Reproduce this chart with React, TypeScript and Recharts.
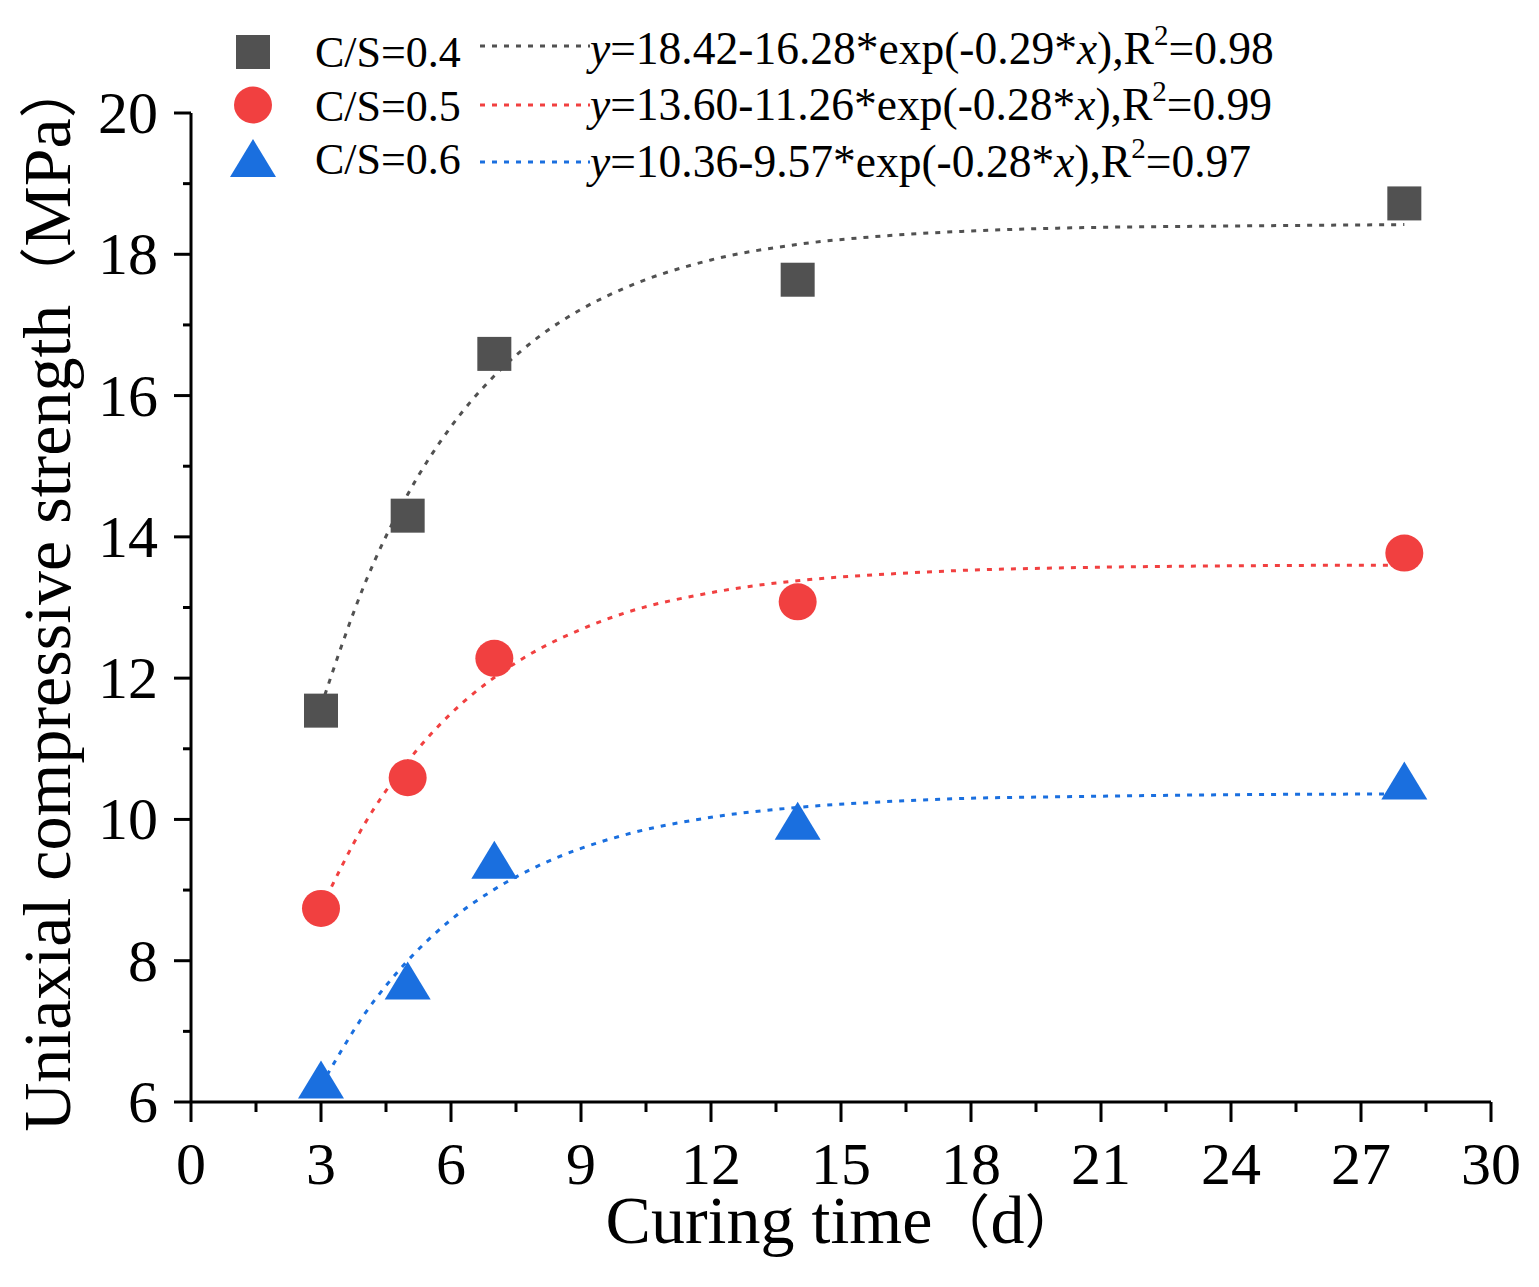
import React from 'react';
import { ComposedChart, XAxis, YAxis, Line, Scatter } from 'recharts';

// Measured data (curing time in days, strength in MPa)
const days = [3, 5, 7, 14, 28];
const strength04 = [11.54, 14.3, 16.59, 17.64, 18.72];
const strength05 = [8.74, 10.59, 12.28, 13.08, 13.77];
const strength06 = [6.32, 7.72, 9.43, 9.98, 10.55];

// Fitted curves
const fitDays = [3, 4, 5, 6, 7, 8, 9, 10, 12, 14, 16, 18, 20, 24, 28];
const fit04 = [11.6, 13.32, 14.6, 15.56, 16.28, 16.82, 17.22, 17.52, 17.92, 18.14, 18.26, 18.33, 18.37, 18.4, 18.42];
const fit05 = [8.74, 9.93, 10.82, 11.5, 12.01, 12.4, 12.69, 12.92, 13.21, 13.38, 13.47, 13.53, 13.56, 13.59, 13.6];
const fit06 = [6.23, 7.24, 8.0, 8.58, 9.01, 9.34, 9.59, 9.78, 10.03, 10.17, 10.25, 10.3, 10.32, 10.35, 10.36];

// Ticks
const xTicks = [0, 1.5, 3, 4.5, 6, 7.5, 9, 10.5, 12, 13.5, 15, 16.5, 18, 19.5, 21, 22.5, 24, 25.5, 27, 28.5, 30];
const yTicks = [6, 7, 8, 9, 10, 11, 12, 13, 14, 15, 16, 17, 18, 19, 20];

// Axis titles
const xTitleText = 'Curing time';
const xTitleUnit = 'd';
const yTitleText = 'Uniaxial compressive strength';
const yTitleUnit = 'MPa';

// Legend texts
const seriesNames = ['C/S=0.4', 'C/S=0.5', 'C/S=0.6'];
const fitA = ['18.42', '13.60', '10.36'];
const fitB = ['16.28', '11.26', '9.57'];
const fitK = ['0.29', '0.28', '0.28'];
const fitR2 = ['0.98', '0.99', '0.97'];

const colors = ['#515151', '#F14040', '#1A6FDF'];
const FONT = "'Liberation Serif', 'Times New Roman', 'Noto Sans CJK SC', serif";

const toPoints = (xs: number[], ys: number[]) => xs.map((x, i) => ({ x, y: ys[i] }));

const pts04 = toPoints(days, strength04);
const pts05 = toPoints(days, strength05);
const pts06 = toPoints(days, strength06);
const line04 = toPoints(fitDays, fit04);
const line05 = toPoints(fitDays, fit05);
const line06 = toPoints(fitDays, fit06);

const SquareShape = (props: any) => {
  const { cx, cy } = props;
  return <rect x={cx - 17} y={cy - 17} width={34} height={34} fill={colors[0]} />;
};
const CircleShape = (props: any) => {
  const { cx, cy } = props;
  return <ellipse cx={cx} cy={cy} rx={19} ry={18.5} fill={colors[1]} />;
};
const TriangleShape = (props: any) => {
  const { cx, cy } = props;
  return <polygon points={`${cx},${cy - 19} ${cx + 23},${cy + 19} ${cx - 23},${cy + 19}`} fill={colors[2]} />;
};

const XTick = (props: any) => {
  const { x, y, payload } = props;
  const v = payload.value;
  const major = Math.abs(v % 3) < 1e-6;
  return (
    <g>
      <line x1={x} x2={x} y1={y} y2={y + (major ? 20 : 10)} stroke="#000" strokeWidth={3} />
      {major && (
        <text x={x} y={y + 82} textAnchor="middle" fontSize={60} fontFamily={FONT} fill="#000">
          {v}
        </text>
      )}
    </g>
  );
};

const YTick = (props: any) => {
  const { x, y, payload } = props;
  const v = payload.value;
  const major = Math.abs(v % 2) < 1e-6;
  return (
    <g>
      <line x1={x - (major ? 17 : 8)} x2={x} y1={y} y2={y} stroke="#000" strokeWidth={3} />
      {major && (
        <text x={x - 33} y={y + 20} textAnchor="end" fontSize={60} fontFamily={FONT} fill="#000">
          {v}
        </text>
      )}
    </g>
  );
};

const PAREN = 58;

const XTitle = () => (
  <text x={836} y={1235} textAnchor="middle" fontSize={68} fontFamily={FONT} fill="#000">
    {xTitleText}
    <tspan fontSize={PAREN}>（</tspan>
    {xTitleUnit}
    <tspan fontSize={PAREN}>）</tspan>
  </text>
);

const YTitle = () => (
  <text
    x={0}
    y={0}
    transform="translate(62,588) rotate(-90)"
    textAnchor="middle"
    fontSize={68}
    fontFamily={FONT}
    fill="#000"
  >
    {yTitleText}
    <tspan fontSize={PAREN}>（</tspan>
    {yTitleUnit}
    <tspan fontSize={PAREN}>）</tspan>
  </text>
);

const rowSymbolY = [44, 97, 150];
const rowLabelY = [59, 113, 166];
const rowLineY = [38, 97, 154];
const rowEqY = [56, 112, 169];

const LegendSymbol = ({ i, cx, cy }: { i: number; cx: number; cy: number }) => {
  if (i === 0) return <SquareShape cx={cx} cy={cy} />;
  if (i === 1) return <CircleShape cx={cx} cy={cy} />;
  return <TriangleShape cx={cx} cy={cy} />;
};

const LegendOverlay = () => (
  <svg
    width={1523}
    height={220}
    style={{ position: 'absolute', left: 0, top: 0, pointerEvents: 'none' }}
  >
    {seriesNames.map((name, i) => (
      <g key={name}>
        <LegendSymbol i={i} cx={245} cy={rowSymbolY[i]} />
        <text x={307} y={rowLabelY[i]} fontSize={44} fontFamily={FONT} fill="#000">
          {name}
        </text>
        <line
          x1={472}
          x2={582}
          y1={rowLineY[i]}
          y2={rowLineY[i]}
          stroke={colors[i]}
          strokeWidth={3}
          strokeDasharray="5 7"
        />
        <text x={582} y={rowEqY[i]} fontSize={45.5} fontFamily={FONT} fill="#000">
          <tspan fontStyle="italic">y</tspan>
          {`=${fitA[i]}-${fitB[i]}*exp(-${fitK[i]}*`}
          <tspan fontStyle="italic">x</tspan>
          {'),R'}
          <tspan dy={-19} fontSize={29}>2</tspan>
          <tspan dy={19}>{`=${fitR2[i]}`}</tspan>
        </text>
      </g>
    ))}
  </svg>
);

export default function App() {
  return (
    <div style={{ position: 'relative', width: 1523, height: 1271, background: '#fff' }}>
      <ComposedChart
        width={1523}
        height={1271}
        margin={{ top: 105, right: 40, bottom: 77, left: 63 }}
      >
        <XAxis
          type="number"
          dataKey="x"
          domain={[0, 30]}
          ticks={xTicks}
          interval={0}
          tickSize={0}
          tickMargin={0}
          tickLine={false}
          axisLine={{ stroke: '#000', strokeWidth: 3 }}
          tick={<XTick />}
          height={100}
          allowDataOverflow
          label={<XTitle />}
        />
        <YAxis
          type="number"
          domain={[6, 20]}
          ticks={yTicks}
          interval={0}
          tickSize={0}
          tickMargin={0}
          tickLine={false}
          axisLine={{ stroke: '#000', strokeWidth: 3 }}
          tick={<YTick />}
          width={120}
          allowDataOverflow
          label={<YTitle />}
        />
        <Line data={line04} dataKey="y" type="monotone" stroke={colors[0]} strokeWidth={3} strokeDasharray="5 7" dot={false} isAnimationActive={false} />
        <Line data={line05} dataKey="y" type="monotone" stroke={colors[1]} strokeWidth={3} strokeDasharray="5 7" dot={false} isAnimationActive={false} />
        <Line data={line06} dataKey="y" type="monotone" stroke={colors[2]} strokeWidth={3} strokeDasharray="5 7" dot={false} isAnimationActive={false} />
        <Scatter data={pts04} dataKey="y" shape={<SquareShape />} isAnimationActive={false} />
        <Scatter data={pts05} dataKey="y" shape={<CircleShape />} isAnimationActive={false} />
        <Scatter data={pts06} dataKey="y" shape={<TriangleShape />} isAnimationActive={false} />
      </ComposedChart>
      <LegendOverlay />
    </div>
  );
}
